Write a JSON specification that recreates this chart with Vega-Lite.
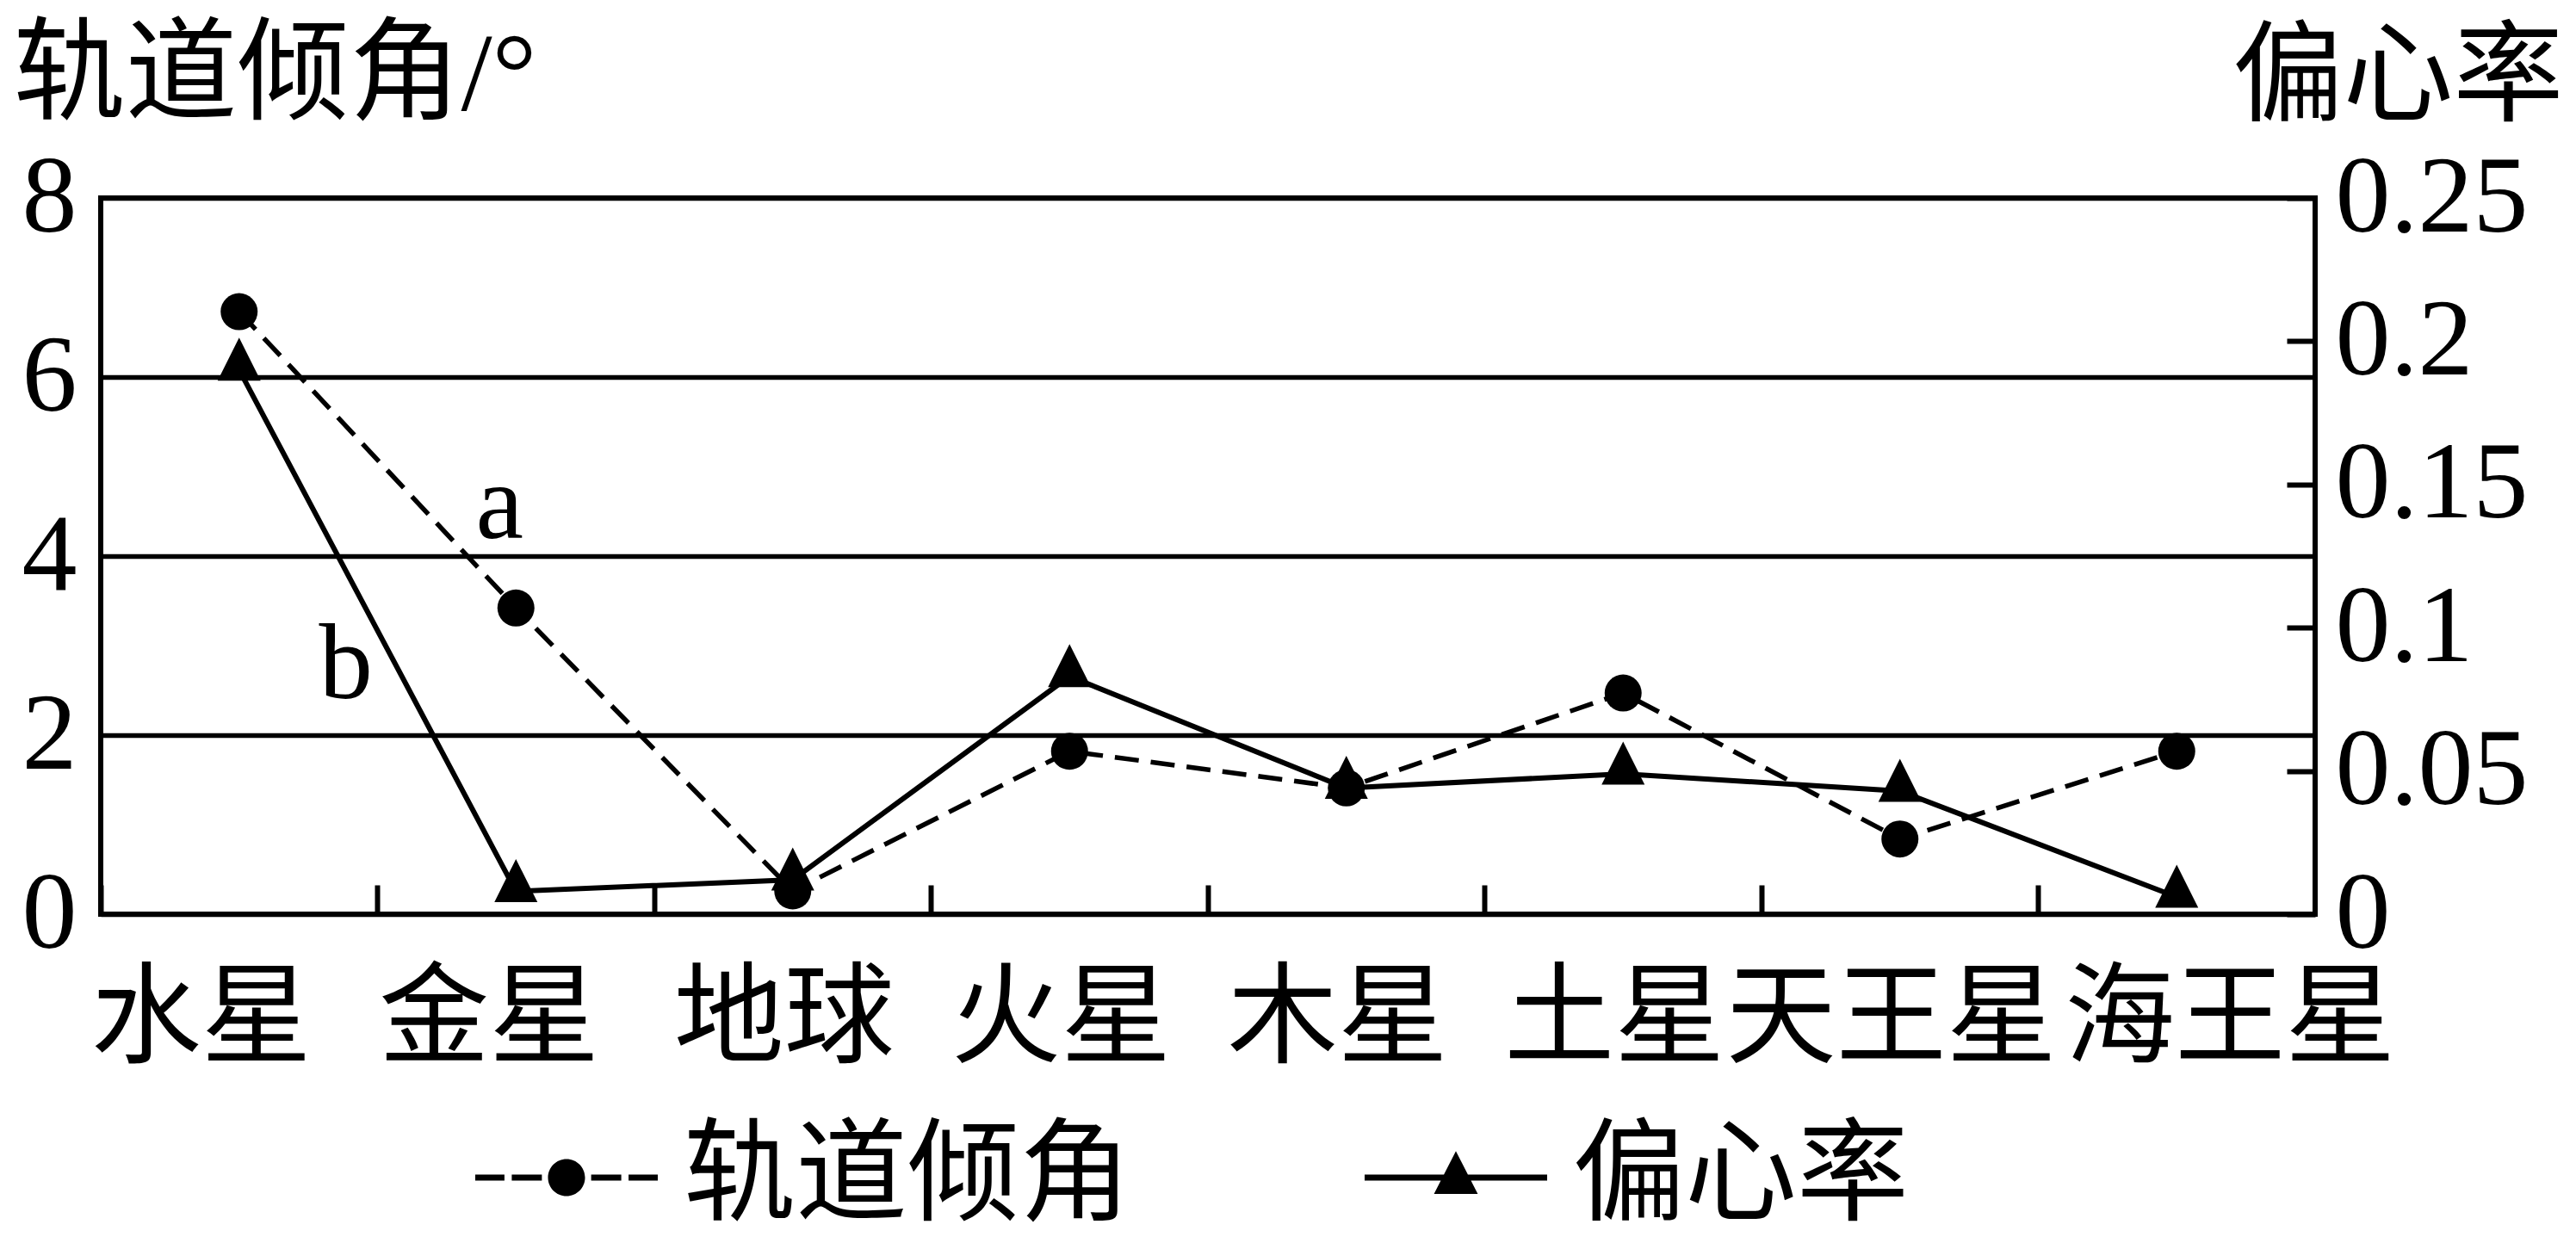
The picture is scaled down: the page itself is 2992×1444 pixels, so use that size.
{
  "$schema": "https://vega.github.io/schema/vega-lite/v6.json",
  "autosize": {"type": "none"},
  "padding": {"left": 117, "top": 230, "right": 303, "bottom": 382},
  "width": 2572,
  "height": 832,
  "background": "white",
  "config": {
    "view": {"stroke": "black", "strokeWidth": 6},
    "axis": {"labelColor": "black", "titleColor": "black", "labelLimit": 1000, "titleLimit": 2000}
  },
  "datasets": {
    "planets": [
      {"planet": "水星", "incl": 6.73, "ecc": 0.19},
      {"planet": "金星", "incl": 3.42, "ecc": 0.008},
      {"planet": "地球", "incl": 0.26, "ecc": 0.012},
      {"planet": "火星", "incl": 1.82, "ecc": 0.083},
      {"planet": "木星", "incl": 1.41, "ecc": 0.044},
      {"planet": "土星", "incl": 2.47, "ecc": 0.049},
      {"planet": "天王星", "incl": 0.84, "ecc": 0.043},
      {"planet": "海王星", "incl": 1.82, "ecc": 0.006}
    ],
    "labels": [
      {"label": "a", "planet": "金星", "incl": 4.2},
      {"label": "b", "planet": "水星", "incl": 2.41}
    ],
    "legendItems": [
      {"series": "轨道倾角"},
      {"series": "偏心率"}
    ]
  },
  "data": {"name": "planets"},
  "encoding": {
    "x": {
      "field": "planet",
      "type": "nominal",
      "sort": null,
      "scale": {"type": "band", "paddingInner": 0, "paddingOuter": 0, "domain": ["水星", "金星", "地球", "火星", "木星", "土星", "天王星", "海王星"]},
      "axis": {
        "title": null,
        "domain": false,
        "grid": false,
        "bandPosition": 0,
        "ticks": true,
        "tickSize": -34,
        "tickWidth": 6,
        "tickColor": "black",
        "labelFont": "Noto Sans CJK SC",
        "labelFontSize": 128,
        "labelAngle": 0,
        "labelAlign": "center",
        "labelBaseline": "top",
        "labelPadding": 95,
        "labelOverlap": false,
        "labelFlush": false,
        "labelBound": false,
        "labelOffset": {
          "condition": [
            {"test": "datum.value == '水星'", "value": -44},
            {"test": "datum.value == '金星'", "value": -31},
            {"test": "datum.value == '海王星'", "value": 62}
          ],
          "value": -10
        }
      }
    }
  },
  "layer": [
    {
      "encoding": {
        "y": {
          "field": "incl",
          "type": "quantitative",
          "scale": {"domain": [0, 8], "nice": false, "zero": false},
          "axis": {
            "title": "轨道倾角/°",
            "titleFont": "'Liberation Serif', 'Noto Sans CJK SC'",
            "titleFontSize": 130,
            "titleFontWeight": "normal",
            "titleAngle": 0,
            "titleAlign": "left",
            "titleBaseline": "alphabetic",
            "titleX": -102,
            "titleY": -103,
            "values": [0, 2, 4, 6, 8],
            "domain": false,
            "ticks": false,
            "tickSize": 0,
            "grid": true,
            "gridColor": "black",
            "gridWidth": 5.5,
            "gridOpacity": 1,
            "labelFont": "Liberation Serif",
            "labelFontSize": 128,
            "labelPadding": 28,
            "labelBaseline": "middle"
          }
        }
      },
      "layer": [
        {
          "mark": {"type": "line", "color": "black", "strokeWidth": 5.5, "strokeDash": [28, 14]}
        },
        {
          "mark": {"type": "point", "shape": "circle", "filled": true, "color": "black", "opacity": 1, "size": 1849}
        },
        {
          "data": {"name": "labels"},
          "transform": [{"filter": "datum.label == 'a'"}],
          "mark": {"type": "text", "font": "Liberation Serif", "fontSize": 125, "color": "black", "align": "center", "baseline": "alphabetic", "dx": -19},
          "encoding": {"text": {"field": "label"}}
        },
        {
          "data": {"name": "labels"},
          "transform": [{"filter": "datum.label == 'b'"}],
          "mark": {"type": "text", "font": "Liberation Serif", "fontSize": 125, "color": "black", "align": "center", "baseline": "alphabetic", "dx": 124},
          "encoding": {"text": {"field": "label"}}
        },
        {
          "data": {"name": "legendItems"},
          "transform": [{"filter": "false"}],
          "mark": {"type": "point", "filled": true, "color": "black", "opacity": 1},
          "encoding": {
            "shape": {
              "field": "series",
              "type": "nominal",
              "scale": {
                "domain": ["轨道倾角", "偏心率"],
                "range": [
                  "M-1,-0.033H-0.68V0.033H-1Z M-0.6,-0.033H-0.27V0.033H-0.6Z M0.27,-0.033H0.6V0.033H0.27Z M0.68,-0.033H1V0.033H0.68Z M-0.203,0A0.203,0.203 0 1,1 0.203,0A0.203,0.203 0 1,1 -0.203,0Z",
                  "M-1,-0.033H1V0.033H-1Z M0,-0.29L0.24,0.18L-0.24,0.18Z"
                ]
              },
              "legend": {
                "orient": "none",
                "legendX": 435,
                "legendY": 1032,
                "direction": "horizontal",
                "title": null,
                "padding": 0,
                "symbolSize": 44944,
                "symbolFillColor": "black",
                "symbolStrokeColor": "black",
                "symbolStrokeWidth": 0,
                "symbolOpacity": 1,
                "labelFont": "Noto Sans CJK SC",
                "labelFontSize": 130,
                "labelColor": "black",
                "labelOffset": 30,
                "labelLimit": 1000,
                "columnPadding": 270
              }
            }
          }
        }
      ]
    },
    {
      "encoding": {
        "y": {
          "field": "ecc",
          "type": "quantitative",
          "scale": {"domain": [0, 0.25], "nice": false, "zero": false},
          "axis": {
            "orient": "right",
            "title": "偏心率",
            "titleFont": "Noto Sans CJK SC",
            "titleFontSize": 128,
            "titleFontWeight": "normal",
            "titleAngle": 0,
            "titleAlign": "left",
            "titleBaseline": "alphabetic",
            "titleX": -96,
            "titleY": -100,
            "values": [0, 0.05, 0.1, 0.15, 0.2, 0.25],
            "format": ".2~f",
            "domain": false,
            "grid": false,
            "ticks": true,
            "tickSize": -33,
            "tickWidth": 6,
            "tickColor": "black",
            "labelFont": "Liberation Serif",
            "labelFontSize": 128,
            "labelPadding": 56,
            "labelBaseline": "middle"
          }
        }
      },
      "layer": [
        {
          "mark": {"type": "line", "color": "black", "strokeWidth": 6}
        },
        {
          "mark": {"type": "point", "shape": "M0,-0.75L0.5,0.25L-0.5,0.25Z", "filled": true, "color": "black", "opacity": 1, "size": 10000}
        }
      ]
    }
  ],
  "resolve": {"scale": {"y": "independent"}}
}
